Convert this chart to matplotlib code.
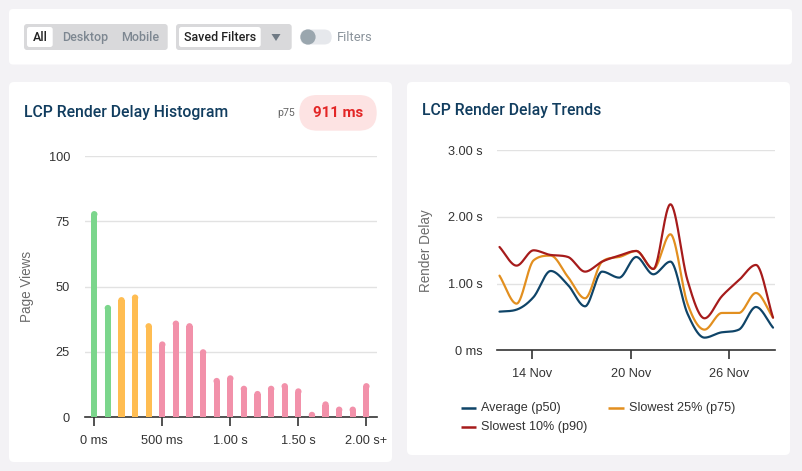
import numpy as np
import matplotlib
matplotlib.use("Agg")
import matplotlib.pyplot as plt
from matplotlib.patches import FancyBboxPatch, Circle, Polygon

# ---------------- data ----------------
hist_bins_ms = [0, 100, 200, 300, 400, 500, 600, 700, 800, 900, 1000,
                1100, 1200, 1300, 1400, 1500, 1600, 1700, 1800, 1900, 2000]
hist_counts = [79, 43, 46, 47, 36, 29, 37, 36, 26, 15, 16,
               12, 10, 12, 13, 11, 2, 6, 4, 4, 13]
hist_colors_key = ["good", "good", "mid", "mid", "mid"] + ["poor"] * 16
hist_xticks = [0, 500, 1000, 1500, 2000]
hist_xticklabels = ["0 ms", "500 ms", "1.00 s", "1.50 s", "2.00 s+"]
hist_yticks = [0, 25, 50, 75, 100]

trend_days = [12.0, 13.04, 14.08, 15.12, 16.17, 17.21, 18.25, 19.29, 20.33,
              21.37, 22.41, 23.45, 24.49, 25.54, 26.58, 27.62, 28.66]
p50 = [0.58, 0.61, 0.80, 1.19, 0.98, 0.66, 1.18, 1.09, 1.40,
       1.14, 1.33, 0.55, 0.19, 0.27, 0.31, 0.65, 0.34]
p75 = [1.12, 0.70, 1.35, 1.42, 1.10, 0.78, 1.33, 1.40, 1.49,
       1.22, 1.74, 0.70, 0.31, 0.56, 0.56, 0.86, 0.49]
p90 = [1.55, 1.27, 1.50, 1.43, 1.40, 1.18, 1.33, 1.42, 1.49,
       1.22, 2.19, 1.05, 0.48, 0.81, 1.05, 1.28, 0.49]
trend_xticks = [14, 20, 26]
trend_xticklabels = ["14 Nov", "20 Nov", "26 Nov"]
trend_yticks = [0, 1, 2, 3]
trend_yticklabels = ["0 ms", "1.00 s", "2.00 s", "3.00 s"]
series_names = ["Average (p50)", "Slowest 25% (p75)", "Slowest 10% (p90)"]

# ---------------- style ----------------
W, H = 802, 471
DPI = 100
BG = "#f3f2f5"
TITLE_C = "#113d5f"
C_GOOD, C_MID, C_POOR = "#7bd68c", "#ffbd52", "#f291aa"
C_P50, C_P75, C_P90 = "#0f4468", "#e28f1f", "#a61b1b"
GRID = "#e2e2e2"
AXC = "#333333"
TICK_FONT = "Liberation Sans"
UI_FONT = "Roboto"


def px(v):
    return v * 72.0 / DPI


fig = plt.figure(figsize=(W / DPI, H / DPI), dpi=DPI, facecolor=BG)

# background overlay axis in pixel coords
bg = fig.add_axes([0, 0, 1, 1])
bg.set_xlim(0, W)
bg.set_ylim(H, 0)
bg.axis("off")
bg.set_zorder(0)


def rbox(x0, y0, x1, y1, r, fc, ec="none", z=1):
    p = FancyBboxPatch((x0 + r, y0 + r), (x1 - x0) - 2 * r, (y1 - y0) - 2 * r,
                       boxstyle=f"round,pad={r}", fc=fc, ec=ec, lw=0, zorder=z)
    bg.add_patch(p)


# cards
rbox(9, 9, 792, 64.5, 4, "white")
rbox(9, 82, 392, 462, 5, "white")
rbox(407, 82, 790, 455, 5, "white")

# top filter bar
rbox(24, 24, 167.7, 50, 3, "#d9d9db", z=2)
rbox(27, 27, 52.7, 47, 2.5, "white", z=3)
bg.text(40, 37.5, "All", ha="center", va="center", fontsize=px(12.5),
        family=UI_FONT, weight="medium", color="#222222", zorder=4)
bg.text(85.5, 37.5, "Desktop", ha="center", va="center", fontsize=px(12.5),
        family=UI_FONT, weight="medium", color="#7d8791", zorder=4)
bg.text(140, 37.5, "Mobile", ha="center", va="center", fontsize=px(12.5),
        family=UI_FONT, weight="medium", color="#7d8791", zorder=4)

rbox(176, 24, 291.7, 50, 3, "#d9d9db", z=2)
rbox(179, 27, 260.7, 47, 2.5, "white", z=3)
bg.text(219.8, 37.5, "Saved Filters", ha="center", va="center", fontsize=px(12.5),
        family=UI_FONT, weight="medium", color="#222222", zorder=4)
bg.add_patch(Polygon([[271.5, 34], [280.5, 34], [276, 41]], closed=True,
                     fc="#6f7a84", ec="none", zorder=4))

rbox(300, 29.5, 331.7, 44.5, 7.5, "#e6e8ec", z=2)
bg.add_patch(Circle((308, 37), 7.6, fc="#9aa6ae", ec="none", zorder=3))
bg.text(336.5, 37.5, "Filters", ha="left", va="center", fontsize=px(13),
        family=UI_FONT, color="#8a939b", zorder=4)

# titles
bg.text(24, 112.5, "LCP Render Delay Histogram", ha="left", va="center",
        fontsize=px(15.8), family=UI_FONT, weight="medium", color=TITLE_C, zorder=4)
bg.text(422.5, 110.5, "LCP Render Delay Trends", ha="left", va="center",
        fontsize=px(15.8), family=UI_FONT, weight="medium", color=TITLE_C, zorder=4)

# p75 badge
bg.text(295, 113, "p75", ha="right", va="center", fontsize=px(10.5),
        family=UI_FONT, color="#666666", zorder=4)
rbox(299.3, 95, 376.7, 130.7, 17.8, "#fde3e3", z=2)
bg.text(338, 113, "911 ms", ha="center", va="center", fontsize=px(15),
        family=UI_FONT, weight="bold", color="#e32626", zorder=4)


def add_axes_px(x0, y0, x1, y1):
    return fig.add_axes([x0 / W, 1 - y1 / H, (x1 - x0) / W, (y1 - y0) / H])


# ---------------- histogram ----------------
ax1 = add_axes_px(85, 156.3, 376.7, 417)
ax1.set_facecolor("none")
ax1.set_xlim(-68, 2076)
ax1.set_ylim(0, 100)
cmap = {"good": C_GOOD, "mid": C_MID, "poor": C_POOR}
cols = [cmap[k] for k in hist_colors_key]
bar_w = 46
r_units = 3.2 / 2.607  # cap radius in data units
base_h = [max(v - r_units, 0) for v in hist_counts]
ax1.bar(hist_bins_ms, base_h, width=bar_w, color=cols, zorder=3, linewidth=0)
ax1.scatter(hist_bins_ms, base_h, s=(px(6.4)) ** 2, c=cols, marker="o",
            zorder=3, linewidths=0)
ax1.set_yticks(hist_yticks)
ax1.set_yticklabels([str(t) for t in hist_yticks])
ax1.set_xticks(hist_xticks)
ax1.set_xticklabels(hist_xticklabels)
for t in hist_yticks[1:]:
    ax1.axhline(t, color=GRID, lw=1.0, zorder=1)
for s in ["top", "right", "left"]:
    ax1.spines[s].set_visible(False)
ax1.spines["bottom"].set_color(AXC)
ax1.spines["bottom"].set_linewidth(1.2)
ax1.tick_params(axis="y", length=0, pad=px(15), labelsize=px(12.7), labelcolor="#333333")
ax1.tick_params(axis="x", length=px(9), width=1.2, color=AXC, pad=px(8.5),
                labelsize=px(12.7), labelcolor="#333333")
for lab in ax1.get_xticklabels() + ax1.get_yticklabels():
    lab.set_family(TICK_FONT)
ax1.set_ylabel("Page Views", fontsize=px(13.5), family=TICK_FONT, color="#6b6b6b")
ax1.yaxis.set_label_coords(-(85 - 33.5) / (376.7 - 85), 0.5)


# ---------------- trends ----------------
def monotone(x, y, n=30):
    x = np.asarray(x, float)
    y = np.asarray(y, float)
    h = np.diff(x)
    d = np.diff(y) / h
    m = np.zeros_like(y)
    m[0], m[-1] = d[0], d[-1]
    for i in range(1, len(y) - 1):
        if d[i - 1] * d[i] <= 0:
            m[i] = 0.0
        else:
            m[i] = (d[i - 1] + d[i]) / 2.0
    for i in range(len(d)):
        if d[i] == 0:
            m[i] = m[i + 1] = 0.0
            continue
        a, b = m[i] / d[i], m[i + 1] / d[i]
        s = a * a + b * b
        if s > 9:
            t = 3 / np.sqrt(s)
            m[i], m[i + 1] = t * a * d[i], t * b * d[i]
    xs, ys = [], []
    for i in range(len(h)):
        t = np.linspace(0, 1, n, endpoint=(i == len(h) - 1))
        h00 = 2 * t**3 - 3 * t**2 + 1
        h10 = t**3 - 2 * t**2 + t
        h01 = -2 * t**3 + 3 * t**2
        h11 = t**3 - t**2
        xs.append(x[i] + t * h[i])
        ys.append(h00 * y[i] + h10 * h[i] * m[i] + h01 * y[i + 1] + h11 * h[i] * m[i + 1])
    return np.concatenate(xs), np.concatenate(ys)


ax2 = add_axes_px(496.7, 150.3, 775, 350.3)
ax2.set_facecolor("none")
ax2.set_xlim(11.83, 28.78)
ax2.set_ylim(0, 3)
for t in trend_yticks[1:]:
    ax2.axhline(t, color=GRID, lw=1.0, zorder=1)
lines = []
for vals, c, name in [(p50, C_P50, series_names[0]), (p75, C_P75, series_names[1]),
                      (p90, C_P90, series_names[2])]:
    xs, ys = monotone(trend_days, vals)
    ln, = ax2.plot(xs, ys, color=c, lw=px(2.2), zorder=3, label=name,
                   solid_joinstyle="round", solid_capstyle="round")
    lines.append(ln)
ax2.set_yticks(trend_yticks)
ax2.set_yticklabels(trend_yticklabels)
ax2.set_xticks(trend_xticks)
ax2.set_xticklabels(trend_xticklabels)
for s in ["top", "right", "left"]:
    ax2.spines[s].set_visible(False)
ax2.spines["bottom"].set_color(AXC)
ax2.spines["bottom"].set_linewidth(1.2)
ax2.tick_params(axis="y", length=0, pad=px(14), labelsize=px(12.7), labelcolor="#333333")
ax2.tick_params(axis="x", length=px(9), width=1.2, color=AXC, pad=px(9),
                labelsize=px(12.7), labelcolor="#333333")
for lab in ax2.get_xticklabels() + ax2.get_yticklabels():
    lab.set_family(TICK_FONT)
ax2.set_ylabel("Render Delay", fontsize=px(13.5), family=TICK_FONT, color="#6b6b6b")
ax2.yaxis.set_label_coords(-(496.7 - 433) / (775 - 496.7), 0.5)

# legend (pixel placement on background)
leg_items = [(460.7, 407.7, C_P50, series_names[0]),
             (608.3, 407.7, C_P75, series_names[1]),
             (460.7, 426.7, C_P90, series_names[2])]
for x0, y0, c, name in leg_items:
    bg.plot([x0, x0 + 15.3], [y0, y0], color=c, lw=px(2.5), solid_capstyle="butt", zorder=4)
    bg.text(x0 + 20.5, y0 + 0.5, name, ha="left", va="center", fontsize=px(12.6),
            family=TICK_FONT, color="#333333", zorder=4)

fig.savefig("out.png", dpi=DPI, facecolor=BG)
